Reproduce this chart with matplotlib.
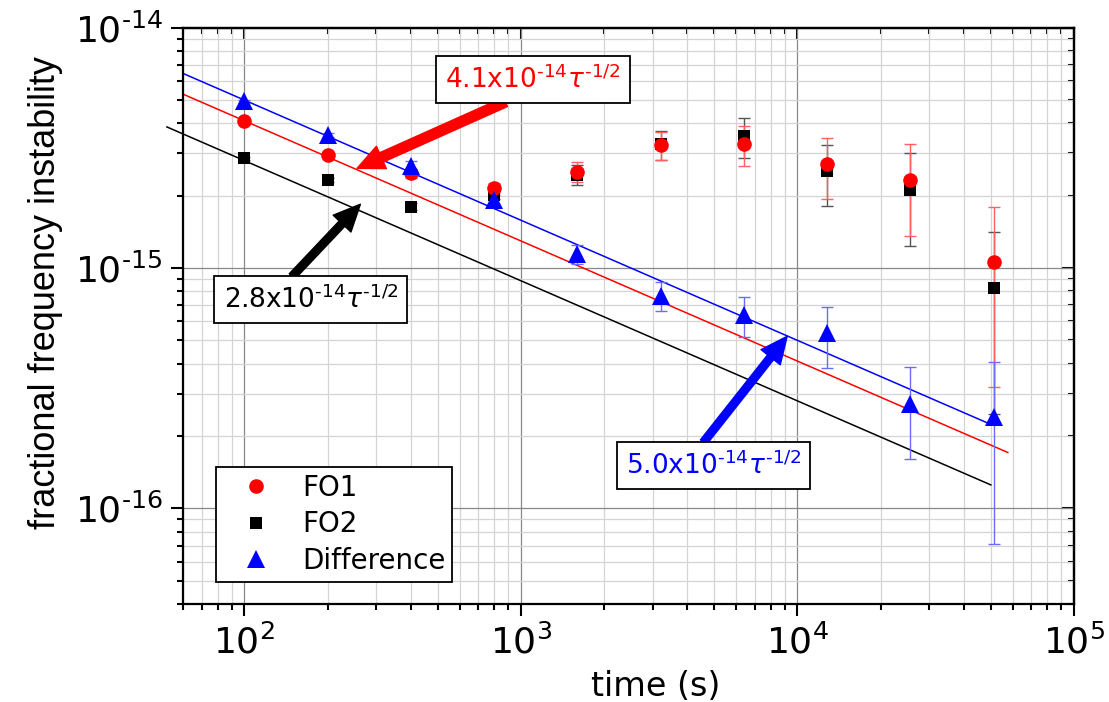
import numpy as np
import matplotlib
matplotlib.use("Agg")
import matplotlib.pyplot as plt
from matplotlib.ticker import LogLocator, FixedLocator, FixedFormatter, NullFormatter

plt.rcParams['font.family'] = ['DejaVu Sans']
plt.rcParams['mathtext.fontset'] = 'dejavusans'

# ---------------- data ----------------
tau = [100, 200, 400, 800, 1600, 3200, 6400, 12800, 25600, 51200]

fo1 = [4.08e-15, 2.95e-15, 2.48e-15, 2.15e-15, 2.52e-15, 3.25e-15, 3.28e-15, 2.70e-15, 2.32e-15, 1.06e-15]
fo1_err = [0.05e-15, 0.07e-15, 0.10e-15, 0.10e-15, 0.23e-15, 0.44e-15, 0.62e-15, 0.76e-15, 0.96e-15, 0.74e-15]

fo2 = [2.86e-15, 2.33e-15, 1.80e-15, 2.01e-15, 2.45e-15, 3.27e-15, 3.54e-15, 2.54e-15, 2.12e-15, 8.26e-16]
fo2_err = [0.04e-15, 0.05e-15, 0.06e-15, 0.08e-15, 0.23e-15, 0.45e-15, 0.68e-15, 0.72e-15, 0.88e-15, 0.58e-15]

diff = [4.94e-15, 3.57e-15, 2.67e-15, 1.92e-15, 1.145e-15, 7.68e-16, 6.35e-16, 5.37e-16, 2.73e-16, 2.39e-16]
diff_err = [0.06e-15, 0.07e-15, 0.12e-15, 0.10e-15, 0.105e-15, 1.03e-16, 1.20e-16, 1.52e-16, 1.13e-16, 1.68e-16]

# fit coefficients (A * tau^-1/2) and fit ranges
fit_coef = {'FO1': 4.1e-14, 'FO2': 2.8e-14, 'Difference': 5.0e-14}
fit_range = {'FO1': [60, 57600], 'FO2': [52.5, 50000], 'Difference': [60, 50000]}

labels = ['FO1', 'FO2', 'Difference']
fit_texts = [r'4.1x10$^{\text{-14}}\tau^{\text{-1/2}}$',
             r'2.8x10$^{\text{-14}}\tau^{\text{-1/2}}$',
             r'5.0x10$^{\text{-14}}\tau^{\text{-1/2}}$']

xticks_major = [1e2, 1e3, 1e4, 1e5]
xtick_labels = [r'$10^{2}$', r'$10^{3}$', r'$10^{4}$', r'$10^{5}$']
yticks_major = [1e-16, 1e-15, 1e-14]
ytick_labels = [r'$10^{\text{-16}}$', r'$10^{\text{-15}}$', r'$10^{\text{-14}}$']

# ---------------- figure ----------------
fig = plt.figure(figsize=(11.09, 7.02), dpi=100)
ax = fig.add_axes([0.165, 0.1396, 0.8035, 0.8209])
ax.set_xscale('log')
ax.set_yscale('log')
ax.set_xlim(60, 1e5)
ax.set_ylim(4e-17, 1e-14)

# grid
ax.grid(True, which='major', color='#888888', lw=0.9, zorder=0)
ax.grid(True, which='minor', color='#d4d4d4', lw=0.9, zorder=0)
ax.set_axisbelow(True)

# fit lines
for name, col in zip(labels, ['red', 'black', 'blue']):
    xr = np.array(fit_range[name], dtype=float)
    ax.plot(xr, fit_coef[name] * xr ** -0.5, color=col, lw=1.1, zorder=2,
            clip_on=(name != 'FO2'))

# error bars
ax.errorbar(tau, fo2, yerr=fo2_err, fmt='none', ecolor='#555555', elinewidth=1.0,
            capsize=4, capthick=1.0, zorder=3)
ax.errorbar(tau, fo1, yerr=fo1_err, fmt='none', ecolor='#ff6060', elinewidth=1.0,
            capsize=4, capthick=1.0, zorder=3)
ax.errorbar(tau, diff, yerr=diff_err, fmt='none', ecolor='#6b6bff', elinewidth=1.0,
            capsize=4, capthick=1.0, zorder=3)

# markers
ax.plot(tau, fo2, 's', color='black', ms=9, mec='black', mew=0, label='FO2', zorder=4)
ax.plot(tau, fo1, 'o', color='red', ms=10.5, mec='red', mew=0, label='FO1', zorder=5)
ax.plot(tau, diff, '^', color='blue', ms=12.5, mec='blue', mew=0, label='Difference', zorder=6)

# ticks
ax.xaxis.set_major_locator(FixedLocator(xticks_major))
ax.xaxis.set_major_formatter(FixedFormatter(xtick_labels))
ax.xaxis.set_minor_locator(LogLocator(base=10, subs=np.arange(2, 10), numticks=20))
ax.xaxis.set_minor_formatter(NullFormatter())
ax.yaxis.set_major_locator(FixedLocator(yticks_major))
ax.yaxis.set_major_formatter(FixedFormatter(ytick_labels))
ax.yaxis.set_minor_locator(LogLocator(base=10, subs=np.arange(2, 10), numticks=20))
ax.yaxis.set_minor_formatter(NullFormatter())

ax.tick_params(which='both', direction='out', width=1.5, top=False, right=False, labelsize=26)
ax.tick_params(which='major', length=8.5, pad=6)
ax.tick_params(which='minor', length=4.5)
for sp in ax.spines.values():
    sp.set_linewidth(1.6)

# inward ticks on top/right
axt = ax.secondary_xaxis('top')
axt.xaxis.set_major_locator(FixedLocator(xticks_major))
axt.xaxis.set_minor_locator(LogLocator(base=10, subs=np.arange(2, 10), numticks=20))
axt.tick_params(which='both', direction='in', width=1.5, labeltop=False)
axt.tick_params(which='major', length=8.5)
axt.tick_params(which='minor', length=4.5)
axr = ax.secondary_yaxis('right')
axr.yaxis.set_major_locator(FixedLocator(yticks_major))
axr.yaxis.set_minor_locator(LogLocator(base=10, subs=np.arange(2, 10), numticks=20))
axr.tick_params(which='both', direction='in', width=1.5, labelright=False)
axr.tick_params(which='major', length=8.5)
axr.tick_params(which='minor', length=4.5)
for a in (axt, axr):
    for sp in a.spines.values():
        sp.set_linewidth(1.6)

# labels
ax.set_xlabel('time (s)', fontsize=24)
ax.xaxis.set_label_coords(0.53, -0.115)
ax.set_ylabel('fractional frequency instability', fontsize=26, family='Liberation Sans')
ax.yaxis.set_label_coords(-0.135, 0.54)

# legend
h, l = ax.get_legend_handles_labels()
order = [l.index(n) for n in labels]
leg = ax.legend([h[i] for i in order], [l[i] for i in order], loc='lower left',
                bbox_to_anchor=(0.037, 0.0387), borderaxespad=0, fontsize=20,
                frameon=True, fancybox=False, edgecolor='black', framealpha=1,
                borderpad=0.25, handlelength=2.4, handletextpad=0.45, labelspacing=0.3)
leg.get_frame().set_linewidth(1.3)

# annotation boxes and arrows
box_pos = [(1103, 6.09e-15), (174, 7.39e-16), (4969, 1.505e-16)]
arrow_tail = [(879, 4.91e-15), (148.8, 9.23e-16), (4571, 1.884e-16)]
arrow_tip = [(255.6, 2.60e-15), (262.8, 1.843e-15), (9177, 5.20e-16)]
colors = ['red', 'black', 'blue']
tails = [0.45, 0.35, 0.35]
for txt, bp, tl, tp, c, tw in zip(fit_texts, box_pos, arrow_tail, arrow_tip, colors, tails):
    ax.annotate('', xy=tp, xytext=tl,
                arrowprops=dict(arrowstyle=f'simple,head_length=1.2,head_width=1.1,tail_width={tw}',
                                mutation_scale=16, color=c, shrinkA=0, shrinkB=0), zorder=7)
    ax.text(bp[0], bp[1], txt, color=c, fontsize=19, ha='center', va='center', zorder=8,
            bbox=dict(boxstyle='square,pad=0.35', fc='white', ec='black', lw=1.3))

fig.savefig('out.png', dpi=100)
